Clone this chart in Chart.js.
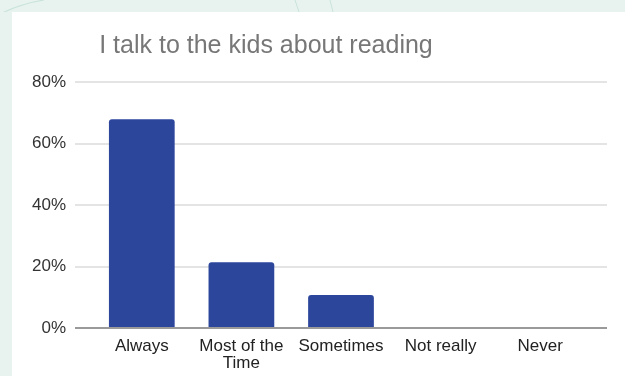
<!DOCTYPE html>
<html>
<head>
<meta charset="utf-8">
<script src="https://cdn.jsdelivr.net/npm/chart.js@4/dist/chart.umd.min.js"></script>
<style>
    html, body {
        margin: 0;
        padding: 0;
        width: 625px;
        height: 376px;
        overflow: hidden;
        background: #e8f3ef;
    }
    .deco {
        position: absolute;
        left: 0;
        top: 0;
    }
    .card {
        position: absolute;
        left: 12px;
        top: 12px;
        width: 613px;
        height: 364px;
        background: #ffffff;
        overflow: hidden;
    }
</style>
</head>
<body>
<svg class="deco" width="625" height="12">
    <path d="M0 14 Q 20 4 44 0" stroke="#c9e3da" stroke-width="1.2" fill="none"/>
    <path d="M295 0 L 299 12" stroke="#c9e3da" stroke-width="1" fill="none"/>
    <path d="M330 0 L 333 12" stroke="#c9e3da" stroke-width="1" fill="none"/>
</svg>
<div class="card">
    <canvas id="chart" width="613" height="364"></canvas>
</div>
<script>
    'use strict';

    // Datos de la encuesta
    const TITLE = 'I talk to the kids about reading';
    const CATEGORIES = [['Always'], ['Most of the', 'Time'], ['Sometimes'], ['Not really'], ['Never']];
    const VALUES = [67.9, 21.4, 10.7, 0, 0];
    const Y_TICKS = [0, 20, 40, 60, 80];

    const BAR_COLOR = '#2c469c';
    const FONT = '"Liberation Sans", Arial, sans-serif';

    // Lineas horizontales que sobresalen del area de barras
    const extendedGrid = {
        id: 'extendedGrid',
        beforeDatasetsDraw(chart) {
            const { ctx, chartArea, scales } = chart;
            ctx.save();
            ctx.strokeStyle = '#e4e4e4';
            ctx.lineWidth = 2;
            scales.y.ticks.forEach(t => {
                if (t.value === 0) return;
                const y = Math.round(scales.y.getPixelForValue(t.value));
                ctx.beginPath();
                ctx.moveTo(chartArea.left - 17, y);
                ctx.lineTo(chartArea.right + 17, y);
                ctx.stroke();
            });
            ctx.restore();
        },
        afterDatasetsDraw(chart) {
            const { ctx, chartArea, scales } = chart;
            const y = Math.round(scales.y.getPixelForValue(0));
            ctx.save();
            ctx.strokeStyle = '#9a9a9a';
            ctx.lineWidth = 2;
            ctx.beginPath();
            ctx.moveTo(chartArea.left - 17, y);
            ctx.lineTo(chartArea.right + 17, y);
            ctx.stroke();
            ctx.restore();
        }
    };

    // Titulo desplazado a la izquierda
    const leftTitle = {
        id: 'leftTitle',
        afterDraw(chart) {
            const { ctx, chartArea } = chart;
            ctx.save();
            ctx.font = '25px ' + FONT;
            ctx.fillStyle = '#777777';
            ctx.textAlign = 'center';
            ctx.textBaseline = 'alphabetic';
            ctx.fillText(TITLE, chartArea.left + 174, 41);
            ctx.restore();
        }
    };

    new Chart(document.getElementById('chart').getContext('2d'), {
        type: 'bar',
        data: {
            labels: CATEGORIES,
            datasets: [{
                data: VALUES,
                backgroundColor: BAR_COLOR,
                borderRadius: 3,
                borderSkipped: 'bottom',
                categoryPercentage: 1,
                barPercentage: 0.66
            }]
        },
        options: {
            responsive: false,
            animation: false,
            layout: {
                padding: { left: 20, right: 35, top: 70, bottom: 0 }
            },
            plugins: {
                legend: { display: false },
                tooltip: { enabled: false }
            },
            scales: {
                y: {
                    min: 0,
                    max: 80,
                    afterBuildTicks(scale) {
                        scale.ticks = Y_TICKS.map(v => ({ value: v }));
                    },
                    afterFit(scale) {
                        scale.width = 60;
                    },
                    ticks: {
                        padding: 26,
                        color: '#333333',
                        font: { size: 17, family: FONT },
                        callback: v => v + '%'
                    },
                    grid: { display: false, drawTicks: false },
                    border: { display: false }
                },
                x: {
                    afterFit(scale) {
                        scale.height = 48;
                    },
                    ticks: {
                        padding: 10,
                        color: '#222222',
                        maxRotation: 0,
                        autoSkip: false,
                        font: { size: 17, family: FONT, lineHeight: 1.0 }
                    },
                    grid: { display: false, drawTicks: false },
                    border: { display: false }
                }
            }
        },
        plugins: [extendedGrid, leftTitle]
    });
</script>
</body>
</html>
